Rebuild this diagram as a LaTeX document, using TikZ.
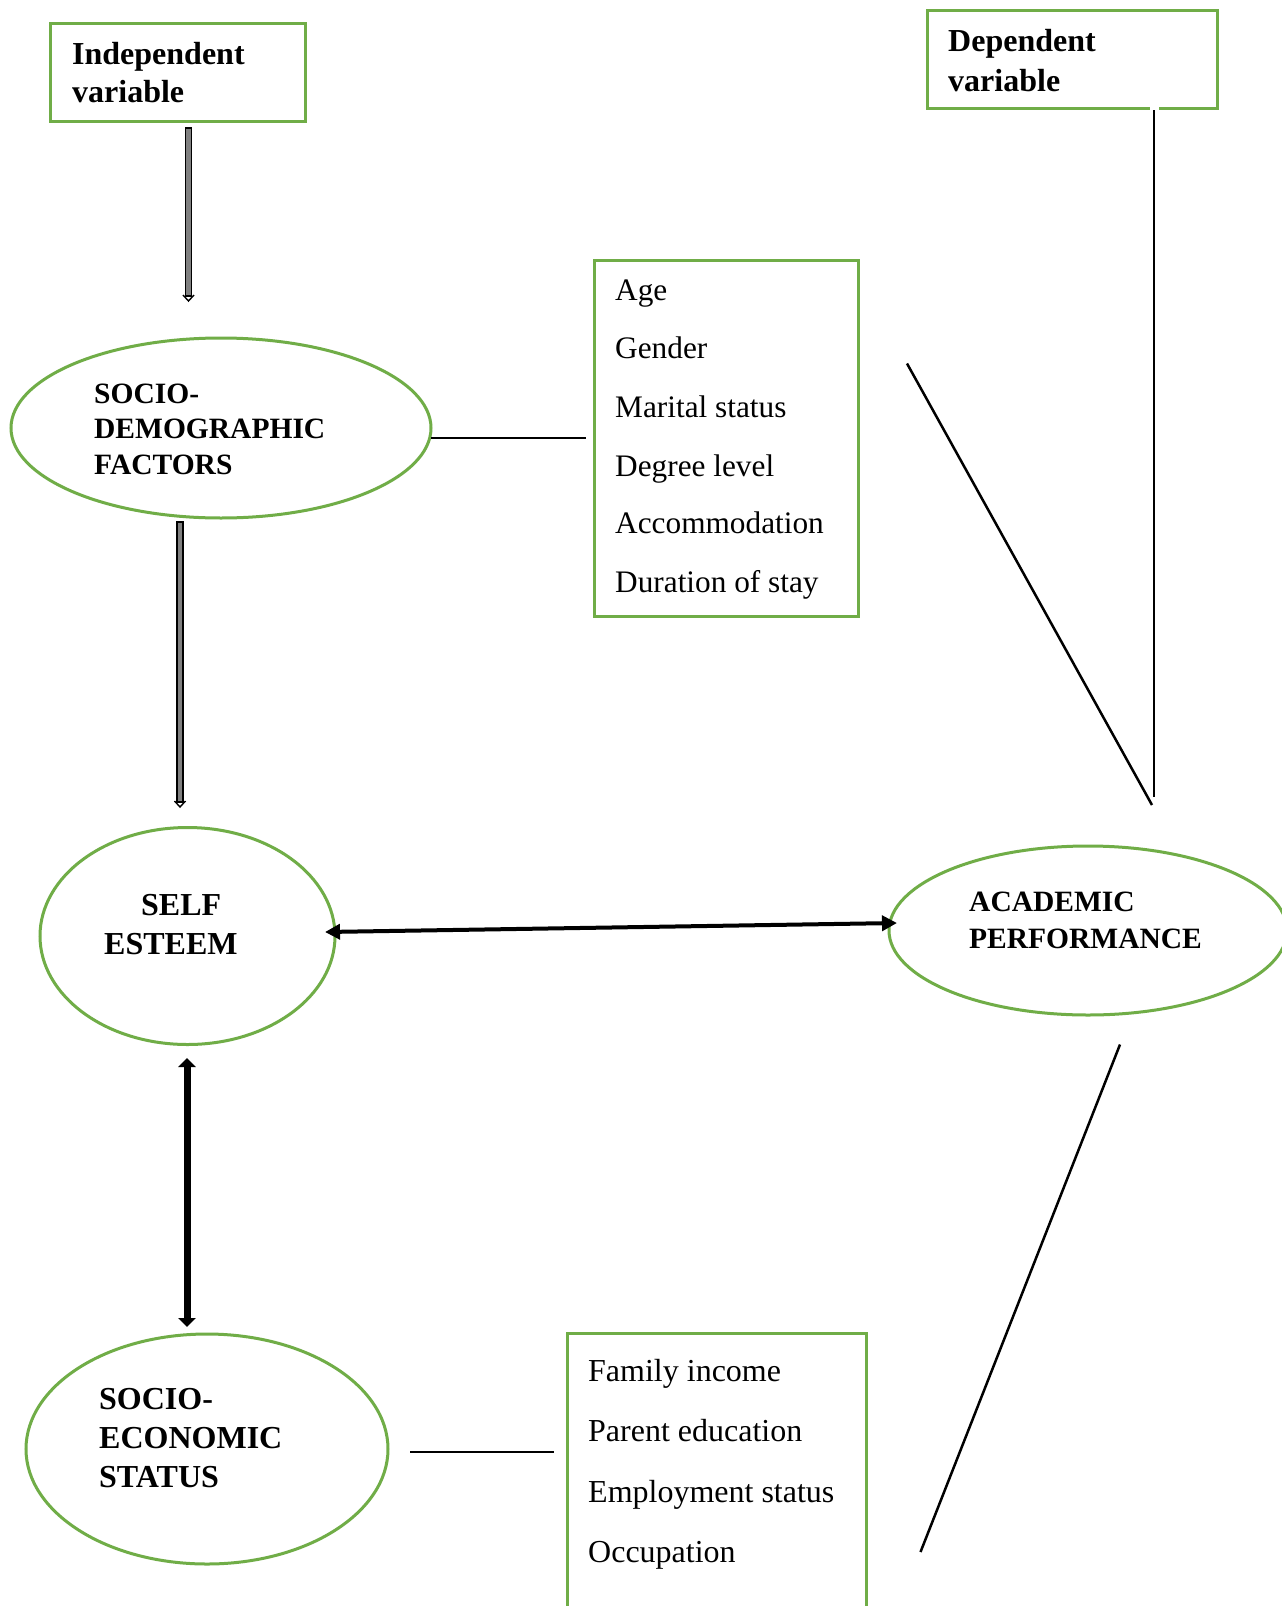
\documentclass[tikz,border=0pt]{standalone}
\usepackage{fontspec}
\setmainfont{Liberation Serif}
\usetikzlibrary{shapes.geometric,arrows.meta,calc}
\definecolor{grn}{HTML}{70AD47}
\begin{document}
\begin{tikzpicture}[x=1pt,y=-1pt,
  gbox/.style={draw=grn,line width=3pt,rectangle,inner sep=0pt},
  gell/.style={draw=grn,line width=3pt,ellipse,inner sep=0pt},
  txt/.style={anchor=base west,inner sep=0pt},
  boldA/.style={txt,font=\fontsize{32}{38}\selectfont\bfseries},
  boldB/.style={txt,font=\fontsize{29.5}{36}\selectfont\bfseries},
  regA/.style={txt,font=\fontsize{31.3}{37}\selectfont},
  regB/.style={txt,font=\fontsize{32}{38}\selectfont},
  conn/.style={line width=2.5pt},
  thinconn/.style={line width=1.5pt},
  dblarrow/.style={line width=7pt,{Triangle[length=9pt,width=17pt]}-{Triangle[length=9pt,width=17pt]}},
  harrow/.style={line width=4pt,{Triangle[length=15pt,width=15pt]}-{Triangle[length=15pt,width=15pt]}},
  grayshaft/.style={line width=1.2pt,draw=black,fill=gray},
  graytip/.style={line width=1.4pt,line join=miter}
]
\useasboundingbox (0,0) rectangle (1282,1606);
\fill[white] (0,0) rectangle (1282,1606);

% boxes
\node[gbox,minimum width=255pt,minimum height=98pt] (ind) at (177.5,72) {};
\node[gbox,minimum width=290pt,minimum height=98.5pt] (dep) at (1072,59.25) {};
\draw[white,line width=4pt] (1150,108.5) -- (1159,108.5);
\node[gbox,minimum width=264pt,minimum height=356pt] (sdlist) at (726,438) {};
\coordinate (sebox) at (567,1333);
\draw[draw=grn,line width=3pt] (567,1620) -- (567,1333) -- (866,1333) -- (866,1620);

% ellipses
\node[gell,minimum width=420pt,minimum height=180pt] (sd) at (221,428) {};
\node[gell,minimum width=295pt,minimum height=217pt] (se) at (187.5,936) {};
\node[gell,minimum width=398pt,minimum height=169pt] (ap) at (1088,930.5) {};
\node[gell,minimum width=362pt,minimum height=230pt] (ses) at (207,1449) {};

% texts
\node[boldA] (t1) at (72,64) {Independent};
\node[boldA] (t2) at (72,102) {variable};
\node[boldA] (t3) at (948,51) {Dependent};
\node[boldA] (t4) at (948,91) {variable};

\node[regA] (l1) at (615,300) {Age};
\node[regA] (l2) at (615,358) {Gender};
\node[regA] (l3) at (615,417) {Marital status};
\node[regA] (l4) at (615,476) {Degree level};
\node[regA] (l5) at (615,533) {Accommodation};
\node[regA] (l6) at (615,592) {Duration of stay};

\node[boldB] (s1) at (94,403) {SOCIO-};
\node[boldB] (s2) at (94,438) {DEMOGRAPHIC};
\node[boldB] (s3) at (94,474) {FACTORS};

\node[boldA] (e1) at (141,915.5) {SELF};
\node[boldA] (e2) at (104,954) {ESTEEM};

\node[boldB] (a1) at (969,911) {ACADEMIC};
\node[boldB] (a2) at (969,948) {PERFORMANCE};

\node[boldA] (c1) at (99,1409) {SOCIO-};
\node[boldA] (c2) at (99,1448) {ECONOMIC};
\node[boldA] (c3) at (99,1487) {STATUS};

\node[regB] (m1) at (588,1381) {Family income};
\node[regB] (m2) at (588,1441) {Parent education};
\node[regB] (m3) at (588,1502) {Employment status};
\node[regB] (m4) at (588,1562) {Occupation};

% gray arrows
\coordinate (g1s) at (188.5,128);
\coordinate (g1e) at (188.5,301);
\draw[grayshaft] ($(g1s)+(-3,0)$) rectangle ($(g1e)+(3,-5)$);
\draw[graytip] ($(g1e)+(-5.5,-6)$) -- (g1e) -- ($(g1e)+(5.5,-6)$);
\coordinate (g2s) at (180,522);
\coordinate (g2e) at (180,807);
\draw[grayshaft] ($(g2s)+(-3,0)$) rectangle ($(g2e)+(3,-5)$);
\draw[graytip] ($(g2e)+(-5.5,-6)$) -- (g2e) -- ($(g2e)+(5.5,-6)$);

% double arrows
\coordinate (v1) at (187,1058);
\coordinate (v2) at (187,1327);
\draw[dblarrow] (v1) -- (v2);
\coordinate (h1) at (325,932);
\coordinate (h2) at (897,923);
\draw[harrow] (h1) -- (h2);

% plain connectors
\coordinate (p1) at (431,438);
\coordinate (p2) at (586,438);
\draw[conn] (p1) -- (p2);
\coordinate (q1) at (410,1452);
\coordinate (q2) at (554,1452);
\draw[line width=2pt] (q1) -- (q2);
\coordinate (d1) at (907,363.5);
\coordinate (d2) at (1152,805);
\draw[conn] (d1) -- (d2);
\coordinate (k1) at (1154,110);
\coordinate (k2) at (1154,797);
\draw[thinconn] (k1) -- (k2);
\coordinate (b1) at (1120,1044.5);
\coordinate (b2) at (920.5,1552);
\draw[conn] (b1) -- (b2);
\end{tikzpicture}
\end{document}
